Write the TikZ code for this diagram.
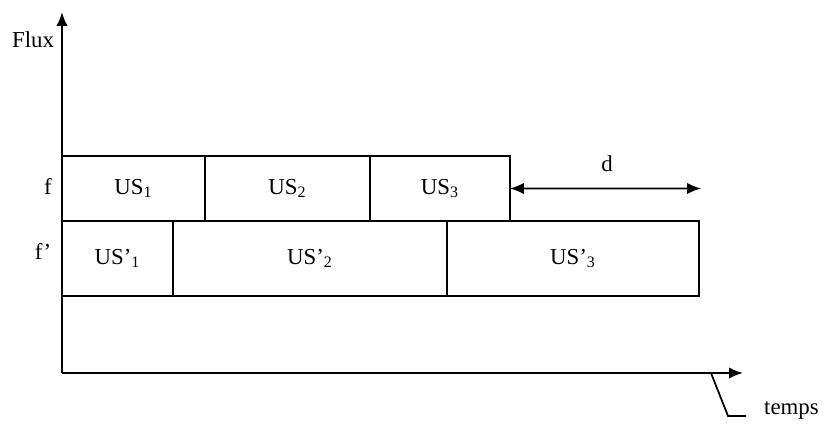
\documentclass[tikz,border=0pt]{standalone}
\usepackage{fontspec}
\setmainfont{Liberation Serif}
\usetikzlibrary{arrows.meta,positioning}

\begin{document}
\begin{tikzpicture}[x=0.02cm, y=-0.02cm, every node/.style={font=\fontsize{13}{15}\selectfont},
    usbox/.style={draw, line width=1pt, inner sep=0pt, outer sep=0pt, anchor=north west},
    axis/.style={-{Latex[length=2.8mm,width=2.3mm]}, line width=1.2pt}]
    \useasboundingbox (0,0) rectangle (825,423);

    % axes
    \coordinate (O) at (62,373);
    \coordinate (ytip) at (62,12);
    \coordinate (xtip) at (743,373);
    \draw[axis] (O) -- (ytip);
    \draw[axis] (O) -- (xtip);
    \node (flux) at (33,40) {Flux};

    % first flow f
    \node[usbox, minimum width=2.86cm, minimum height=1.3cm] (us1) at (62,156) {US\textsubscript{1}};
    \node[usbox, minimum width=3.3cm, minimum height=1.3cm, right=0pt of us1] (us2) {US\textsubscript{2}};
    \node[usbox, minimum width=2.8cm, minimum height=1.3cm, right=0pt of us2] (us3) {US\textsubscript{3}};
    \node (f) at (48,186) {f};

    % second flow f'
    \node[usbox, minimum width=2.22cm, minimum height=1.5cm] (usp1) at (us1.south west) {US'\textsubscript{1}};
    \node[usbox, minimum width=5.48cm, minimum height=1.5cm, right=0pt of usp1] (usp2) {US'\textsubscript{2}};
    \node[usbox, minimum width=5.04cm, minimum height=1.5cm, right=0pt of usp2] (usp3) {US'\textsubscript{3}};
    \node (fp) at (43,251) {f'};

    % delay d
    \coordinate (dend) at (701,188.5);
    \draw[{Latex[length=2.8mm,width=2.3mm]}-{Latex[length=2.8mm,width=2.3mm]}, line width=1pt] (us3.east) -- (dend);
    \node (d) at (607,164) {d};

    % time label
    \node[anchor=west] (temps) at (758,410) {temps};
    \coordinate (tk) at (711,373);
    \coordinate (tb) at (728,416);
    \coordinate (te) at (746,416);
    \draw[line width=1pt] (tk) -- (tb) -- (te);
\end{tikzpicture}
\end{document}
